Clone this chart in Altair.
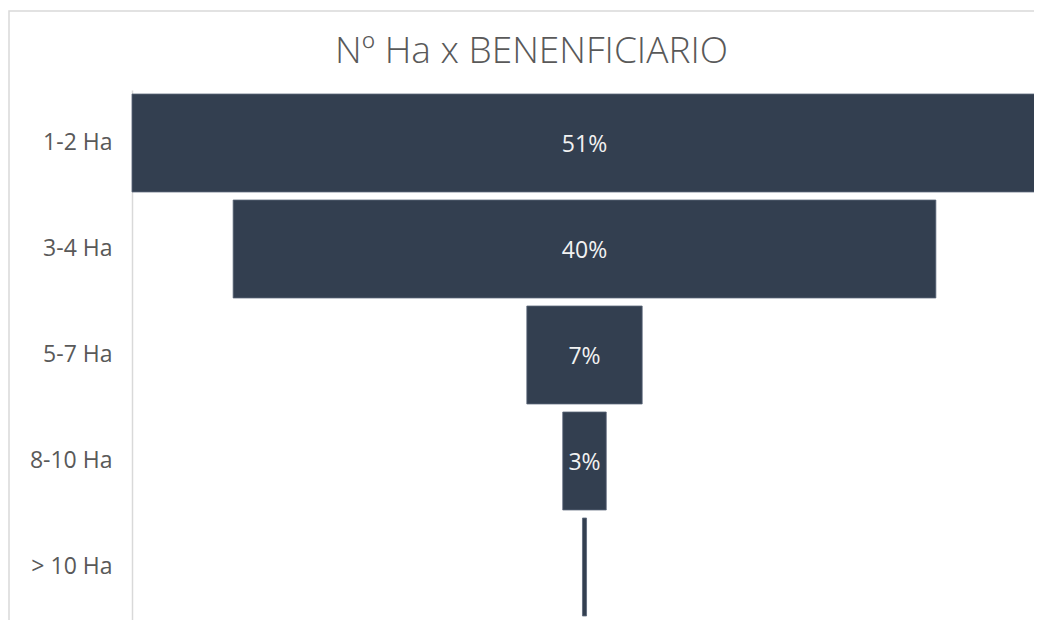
import altair as alt
import pandas as pd

categories = ["1-2 Ha", "3-4 Ha", "5-7 Ha", "8-10 Ha", "> 10 Ha"]
values = [51.0, 39.6, 6.5, 2.45, 0.23]
labels = ["51%", "40%", "7%", "3%", ""]

df = pd.DataFrame({"cat": categories, "val": values, "lab": labels})

FONT = "Open Sans"
BAR = "#333F50"

y_enc = alt.Y("cat:N", sort=categories, title=None,
              scale=alt.Scale(paddingInner=0.076, paddingOuter=0.038))
x_scale = alt.Scale(domain=[-25.5, 25.5], nice=False, zero=False)

base = alt.Chart(df).transform_calculate(
    lo="-datum.val/2", hi="datum.val/2", zero="0"
)

bars = base.mark_bar(color=BAR, stroke="#5b6678", strokeWidth=0.8).encode(
    x=alt.X("lo:Q", scale=x_scale, axis=None),
    x2="hi:Q",
    y=y_enc,
)

text = base.mark_text(font=FONT, fontSize=23, color="#f2f2f2", dy=2).encode(
    x=alt.X("zero:Q", scale=x_scale, axis=None),
    y=alt.Y("cat:N", sort=categories),
    text="lab:N",
)

frame = alt.Chart(df).mark_rect(filled=False, stroke="#d9d9d9", strokeWidth=1.5).encode(
    x=alt.value(-123), x2=alt.value(940), y=alt.value(-79), y2=alt.value(560)
).transform_filter("datum.cat == '1-2 Ha'")

chart = alt.layer(frame, bars, text).properties(
    width=905,
    height=530,
    autosize=alt.AutoSizeParams(type="none"),
    padding={"left": 124, "top": 82, "right": -3, "bottom": 0},
    title=alt.TitleParams(
        "Nº Ha x BENENFICIARIO", font=FONT, fontSize=37, fontWeight=300,
        color="#595959", anchor="middle", frame="group", dx=-53, offset=-61,
    ),
).configure_view(stroke=None).configure_axisY(
    labelFont=FONT, labelFontSize=23, labelColor="#595959",
    ticks=False, tickSize=0, labelPadding=20,
    domainColor="#d9d9d9", domainWidth=1.5,
)

chart.save("out.html", embed_options={"renderer": "svg", "actions": False})
